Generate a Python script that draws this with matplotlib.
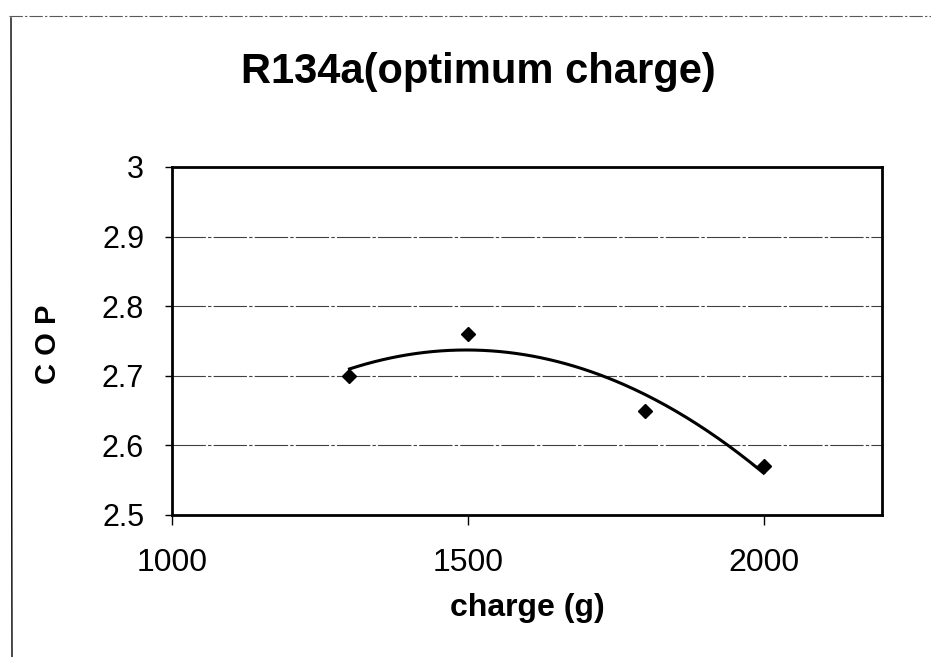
import numpy as np
import matplotlib
matplotlib.use("Agg")
import matplotlib.pyplot as plt
from matplotlib.lines import Line2D

# -------------------------------------------------------------------------------------
# Data
charge_g = [1300, 1500, 1800, 2000]
cop = [2.70, 2.76, 2.65, 2.57]

x_ticks = [1000, 1500, 2000]
y_ticks = [2.5, 2.6, 2.7, 2.8, 2.9, 3.0]
y_tick_labels = ['2.5', '2.6', '2.7', '2.8', '2.9', '3']

title_text = 'R134a(optimum charge)'
x_label = 'charge (g)'
y_label = 'C O P'
# -------------------------------------------------------------------------------------

plt.rcParams['font.family'] = ['Liberation Sans', 'DejaVu Sans']

fig = plt.figure(figsize=(9.31, 6.57), dpi=100)
ax = fig.add_axes([172 / 931, 1 - 515 / 657, 710 / 931, 348 / 657])

# gridlines
for v in y_ticks[1:-1]:
    ax.axhline(v, color='0.25', lw=0.8, zorder=1,
               linestyle=(0, (30, 2, 3, 2)))

# polynomial trend line (order 2), as excel does
coef = np.polyfit(charge_g, cop, 2)
x_fit = np.linspace(min(charge_g), max(charge_g), 200)
ax.plot(x_fit, np.polyval(coef, x_fit), color='black', lw=2.2, zorder=2)

ax.plot(charge_g, cop, linestyle='none', marker='D', markersize=7.5,
        color='black', zorder=3)

ax.set_xlim(1000, 2200)
ax.set_ylim(2.5, 3.0)
ax.set_xticks(x_ticks)
ax.set_yticks(y_ticks)
ax.set_yticklabels(y_tick_labels)

ax.tick_params(axis='both', direction='out', color='black')
ax.tick_params(axis='x', labelsize=23, length=7, width=1, pad=17)
ax.tick_params(axis='y', labelsize=22, length=5, width=1, pad=15)

for s in ax.spines.values():
    s.set_linewidth(2.0)
    s.set_color('black')

ax.set_xlabel(x_label, fontsize=23, fontweight='bold')
ax.xaxis.set_label_coords(0.5, -0.225)
ax.set_ylabel(y_label, fontsize=21, fontweight='bold')
ax.yaxis.set_label_coords(-0.155, 0.49)

fig.text(478 / 931, 1 - 72 / 657, title_text, fontsize=30, fontweight='bold',
         ha='center', va='center')

# scanned chart frame (top and left edges only)
fig.add_artist(Line2D([9 / 931, 1.0], [1 - 16 / 657, 1 - 16 / 657],
                      transform=fig.transFigure, color='0.35', lw=0.8,
                      linestyle=(0, (12, 2, 2, 2))))
fig.add_artist(Line2D([11 / 931, 12 / 931], [1 - 18 / 657, 0.0],
                      transform=fig.transFigure, color='black', lw=1.0))

fig.savefig('out.png', dpi=100)
